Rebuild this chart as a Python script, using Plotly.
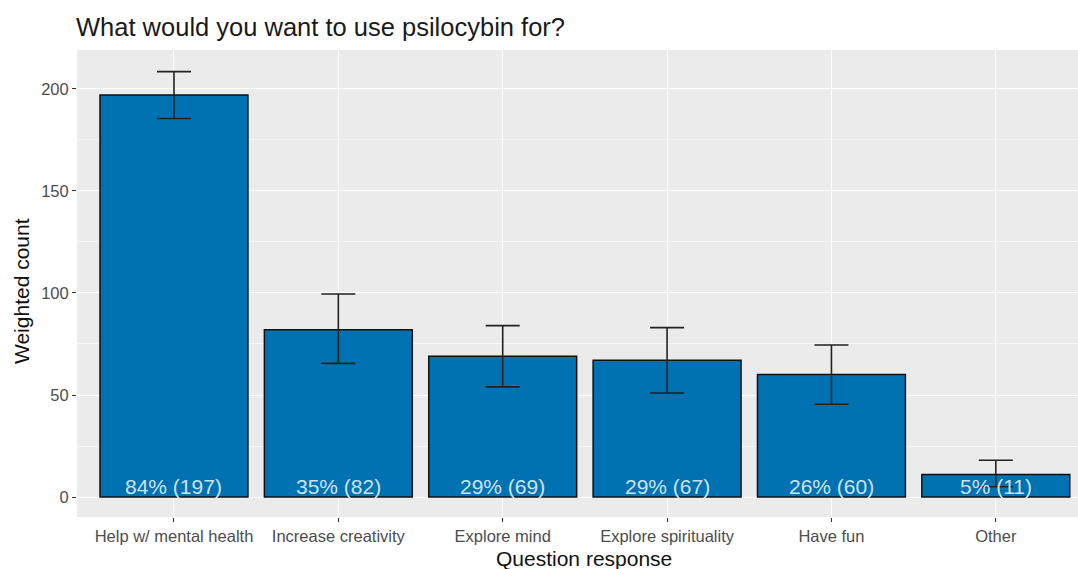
import plotly.graph_objects as go

# Survey responses: weighted counts with interval bounds
categories = ["Help w/ mental health", "Increase creativity", "Explore mind",
              "Explore spirituality", "Have fun", "Other"]
counts = [197, 82, 69, 67, 60, 11]
percents = [84, 35, 29, 29, 26, 5]
upper = [208.5, 99.5, 84, 83, 74.5, 18]
lower = [185.5, 65.5, 54, 51, 45.5, 5]

labels = [f"{p}% ({c})" for p, c in zip(percents, counts)]
err_plus = [u - c for u, c in zip(upper, counts)]
err_minus = [c - l for c, l in zip(counts, lower)]

FONT = "Liberation Sans, Arial"

fig = go.Figure()
fig.add_trace(go.Bar(
    x=categories, y=counts, width=0.9,
    marker=dict(color="#0072B2", line=dict(color="#111111", width=1.5)),
    error_y=dict(type="data", array=err_plus, arrayminus=err_minus,
                 color="#222222", thickness=1.6, width=17),
    showlegend=False, hoverinfo="skip",
))

# value labels sitting at the base of each bar
for cat, lab in zip(categories, labels):
    fig.add_annotation(x=cat, y=0, text=lab, showarrow=False,
                       yanchor="bottom", yshift=-3,
                       font=dict(family=FONT, size=21,
                                 color="rgba(225,240,252,0.92)"))

# axis titles
fig.add_annotation(xref="paper", yref="paper", x=(584 - 77) / 1001,
                   y=-(558 - 517) / 467, text="Question response",
                   showarrow=False, xanchor="center", yanchor="middle",
                   font=dict(family=FONT, size=21, color="#111111"))
fig.add_annotation(xref="paper", yref="paper", x=-(77 - 21) / 1001,
                   y=(517 - 291) / 467, text="Weighted count", textangle=-90,
                   showarrow=False, xanchor="center", yanchor="middle",
                   font=dict(family=FONT, size=21, color="#111111"))

fig.update_layout(
    width=1078, height=569,
    margin=dict(l=77, r=0, t=50, b=52),
    paper_bgcolor="white", plot_bgcolor="#EBEBEB",
    font=dict(family=FONT, color="#4D4D4D"),
    title=dict(text="What would you want to use psilocybin for?",
               x=76 / 1078, xanchor="left", y=1 - 27 / 569, yanchor="middle",
               font=dict(size=25.5, color="#1A1A1A")),
    bargap=0.1,
)
fig.update_xaxes(
    range=[-0.59, 5.5], showgrid=True, gridcolor="white", gridwidth=1.2,
    ticks="outside", ticklen=4, tickcolor="#333333", tickwidth=1,
    tickfont=dict(size=16.5, color="#4D4D4D"), zeroline=False, showline=False,
)
fig.update_yaxes(
    range=[-9.8, 219.1], tickvals=[0, 50, 100, 150, 200],
    showgrid=True, gridcolor="white", gridwidth=1.2,
    minor=dict(tickvals=[25, 75, 125, 175], showgrid=True,
               gridcolor="#F5F5F5", gridwidth=0.6, ticks=""),
    ticks="outside", ticklen=4, tickcolor="#333333", tickwidth=1,
    tickfont=dict(size=16.5, color="#4D4D4D"), zeroline=False, showline=False,
)

fig.write_html("out.html")
